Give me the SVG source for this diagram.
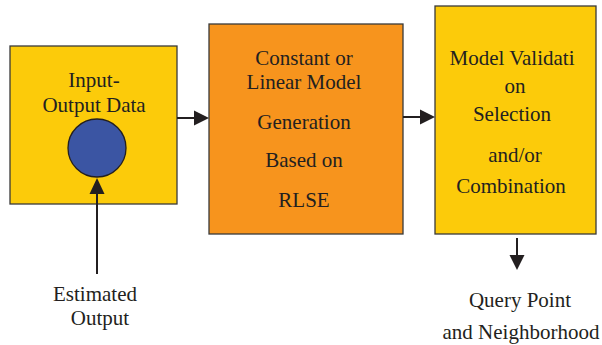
<svg xmlns="http://www.w3.org/2000/svg" width="602" height="345" viewBox="0 0 602 345">
  <style>
    .box { stroke: #3a3a3a; stroke-width: 1.3; }
    .yellow { fill: #fccb0a; }
    .orange { fill: #f7941d; }
    .lbl { font-size: 21px; fill: #231f20; text-anchor: middle; }
    .wire { stroke: #231f20; stroke-width: 2; fill: none; }
    .head { fill: #231f20; }
  </style>

  <rect width="602" height="345" fill="#ffffff"/>

  <g font-family="Liberation Serif, Times New Roman, Times, serif">
  <!-- Input-Output Data block -->
  <g id="io-data">
    <rect class="box yellow" x="10" y="46" width="167" height="158"/>
    <text class="lbl" x="94" y="87">Input-</text>
    <text class="lbl" x="94" y="112">Output Data</text>
    <circle cx="97" cy="148" r="29" fill="#3b55a3" stroke="#231f20" stroke-width="1.3"/>
  </g>

  <!-- Model generation block -->
  <g id="model-gen">
    <rect class="box orange" x="209" y="24" width="194" height="210"/>
    <text class="lbl" x="304" y="65">Constant or</text>
    <text class="lbl" x="304" y="89">Linear Model</text>
    <text class="lbl" x="304" y="129">Generation</text>
    <text class="lbl" x="304" y="167">Based on</text>
    <text class="lbl" x="304" y="207">RLSE</text>
  </g>

  <!-- Validation block -->
  <g id="validation">
    <rect class="box yellow" x="435" y="6" width="161" height="228"/>
    <text class="lbl" x="512" y="65">Model Validati</text>
    <text class="lbl" x="515" y="93">on</text>
    <text class="lbl" x="512" y="121">Selection</text>
    <text class="lbl" x="515" y="162">and/or</text>
    <text class="lbl" x="511" y="193">Combination</text>
  </g>

  <!-- Free labels -->
  <g id="estimated-output">
    <text class="lbl" x="95" y="301">Estimated</text>
    <text class="lbl" x="100" y="325">Output</text>
  </g>
  <g id="query-point">
    <text class="lbl" x="520" y="307">Query Point</text>
    <text class="lbl" x="521" y="339">and Neighborhood</text>
  </g>
  </g>

  <!-- Connectors -->
  <g id="connectors">
    <line class="wire" x1="97" y1="274" x2="97" y2="192"/>
    <polygon class="head" points="97,178 89.5,194 104.5,194"/>

    <line class="wire" x1="177" y1="118" x2="195" y2="118"/>
    <polygon class="head" points="209,118 194,110.5 194,125.5"/>

    <line class="wire" x1="403" y1="117" x2="422" y2="117"/>
    <polygon class="head" points="435,117 420,109.5 420,124.5"/>

    <line class="wire" x1="517" y1="238" x2="517" y2="256"/>
    <polygon class="head" points="517,270 509.5,255 524.5,255"/>
  </g>
</svg>
